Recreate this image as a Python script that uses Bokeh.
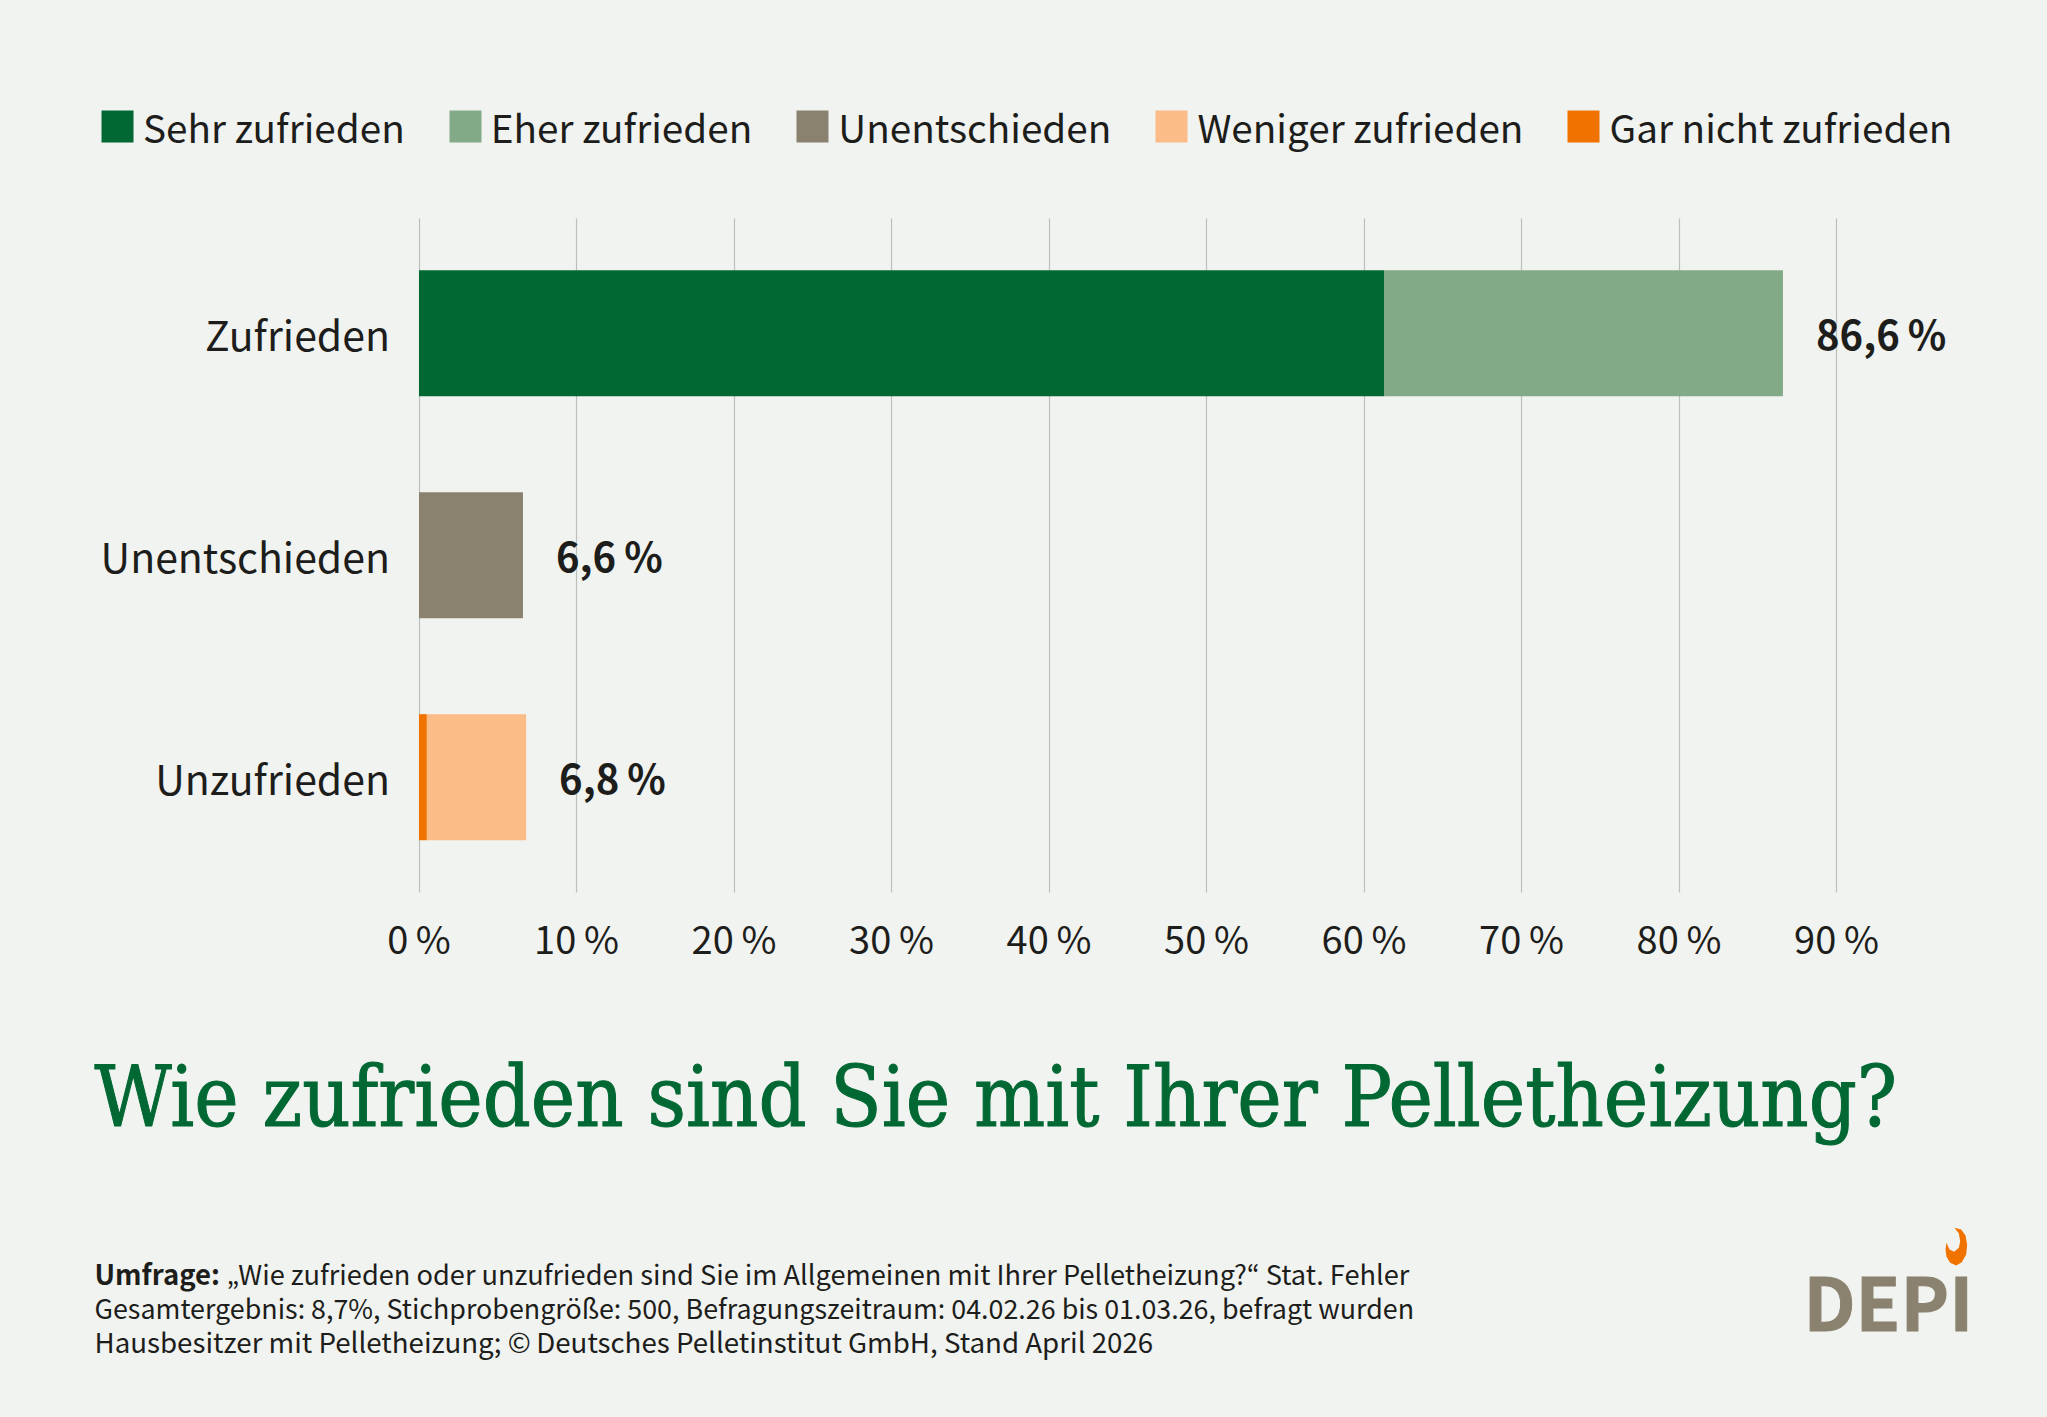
from bokeh.core.properties import value
from bokeh.embed import file_html
from bokeh.resources import INLINE
from bokeh.plotting import figure
from bokeh.models import (ColumnDataSource, FixedTicker, Grid, Label, Legend, LegendItem, LinearAxis,
                          PolyAnnotation, Range1d)

categories = ["Unzufrieden", "Unentschieden", "Zufrieden"]
sehr = [0, 0, 61.3]
eher = [0, 0, 25.3]
unent = [0, 6.6, 0]
gar = [0.5, 0, 0]
weniger = [6.3, 0, 0]
totals = [6.8, 6.6, 86.6]
total_labels = ["6,8\u2009%", "6,6\u2009%", "86,6\u2009%"]
ticks = [0, 10, 20, 30, 40, 50, 60, 70, 80, 90]
tick_labels = {t: f"{t}\u2009%" for t in ticks}
series_names = ["Sehr zufrieden", "Eher zufrieden", "Unentschieden", "Gar nicht zufrieden", "Weniger zufrieden"]
stack_keys = ["sehr", "eher", "unent", "gar", "weniger"]
colors = ["#016833", "#83aa87", "#8a826f", "#f07300", "#fbbc88"]
title_text = "Wie zufrieden sind Sie mit Ihrer Pelletheizung?"
foot_bold = "Umfrage:"
foot_lines = ["\u201eWie zufrieden oder unzufrieden sind Sie im Allgemeinen mit Ihrer Pelletheizung?\u201c Stat. Fehler",
              "Gesamtergebnis: 8,7%, Stichprobengr\u00f6\u00dfe: 500, Befragungszeitraum: 04.02.26 bis 01.03.26, befragt wurden",
              "Hausbesitzer mit Pelletheizung; \u00a9\u2009Deutsches Pelletinstitut GmbH, Stand April 2026"]

BG = "#f1f3f0"
INK = "#1d1d1b"
FONT = "Noto Sans CJK KR"

W, H = 2047, 1417
PX_PER_PCT, PX_PER_CAT = 15.75, 222.0
X0, Y0 = 418.5, 776.7   # canvas position of 0 % and of the first category
GRID_LOW, GRID_HIGH = -0.519, 2.518

p = figure(width=W, height=H, output_backend="svg", toolbar_location=None,
           x_range=Range1d(-X0 / PX_PER_PCT, (W - X0) / PX_PER_PCT),
           y_range=Range1d(-(H - Y0) / PX_PER_CAT, Y0 / PX_PER_CAT),
           x_axis_type=None, y_axis_type=None,
           background_fill_color=BG, border_fill_color=BG, outline_line_color=None,
           min_border=0, min_border_left=0, min_border_right=0, min_border_top=0, min_border_bottom=0)
ypos = list(range(len(categories)))
src = ColumnDataSource(dict(cat=ypos, sehr=sehr, eher=eher, unent=unent, gar=gar, weniger=weniger,
                            total=totals, lab=total_labels))

grid = Grid(dimension=0, ticker=FixedTicker(ticks=ticks), grid_line_color="#bcbfbc", grid_line_width=1.2,
            cross_bounds=(GRID_LOW, GRID_HIGH))
p.add_layout(grid)

rs = p.hbar_stack(stack_keys, y="cat", height=0.568, color=colors, source=src, line_width=0)
p.text(x="total", y="cat", text="lab", source=src, x_offset=33, text_baseline="middle", text_align="left",
       text_font=value(FONT), text_font_size="40px", text_font_style="bold", text_color=INK)

xax = LinearAxis(ticker=FixedTicker(ticks=ticks), major_label_overrides=tick_labels, fixed_location=GRID_LOW,
                 major_label_standoff=12)
yax = LinearAxis(ticker=FixedTicker(ticks=ypos), major_label_overrides=dict(zip(ypos, categories)), fixed_location=0,
                 major_label_standoff=23)
for ax, size in ((xax, "38px"), (yax, "41px")):
    ax.axis_line_color = None
    ax.major_tick_line_color = None
    ax.minor_tick_line_color = None
    ax.major_label_text_font = FONT
    ax.major_label_text_font_size = size
    ax.major_label_text_color = INK
p.add_layout(xax, "below")
p.add_layout(yax, "left")

order = [0, 1, 2, 4, 3]
leg = Legend(items=[LegendItem(label=series_names[i], renderers=[rs[i]]) for i in order],
             orientation="horizontal", location=(97, H - 154), background_fill_alpha=0, border_line_alpha=0,
             glyph_width=40, glyph_height=40, label_standoff=6, spacing=40, padding=0, margin=0,
             label_text_font=FONT, label_text_font_size="38.7px", label_text_color=INK, label_height=40)
p.add_layout(leg, "center")


def text(x, y, s, size, color=INK, font=FONT, style="normal", outline=None):
    lab = Label(x=x, y=H - (y - 0.45 * size), x_units="screen", y_units="screen", text=s, text_font=font,
                text_font_size=f"{size}px", text_color=color, text_font_style=style,
                text_baseline="alphabetic", text_align="left")
    if outline:
        lab.text_outline_color = outline
    p.add_layout(lab)


text(94, 1134, title_text, 83.5, "#016833", "DejaVu Serif Condensed", outline="#016833")
text(94, 1285, foot_bold, 27.5, style="bold")
text(226, 1285, foot_lines[0], 27.2)
text(94, 1319, foot_lines[1], 26.85)
text(94, 1353, foot_lines[2], 27.7)
text(1803, 1331, "DEPI", 73, "#8a826f", style="bold", outline="#8a826f")

flame = [(765, 145), (785, 150), (798, 168), (803, 195), (800, 225), (787, 248), (770, 258), (752, 250), (741, 232),
         (738, 210), (741, 190), (750, 210), (764, 217), (778, 205), (782, 185), (778, 162)]
p.add_layout(PolyAnnotation(xs=[1699 + a / 3 for a, b in flame], ys=[H - (1179 + b / 3) for a, b in flame],
                            xs_units="screen", ys_units="screen", fill_color="#f07300", fill_alpha=1,
                            line_alpha=0))

html = file_html(p, INLINE)
html = html.replace("<head>", "<head><style>html,body{background:%s}</style>" % BG, 1)
open("out.html", "w").write(html)
